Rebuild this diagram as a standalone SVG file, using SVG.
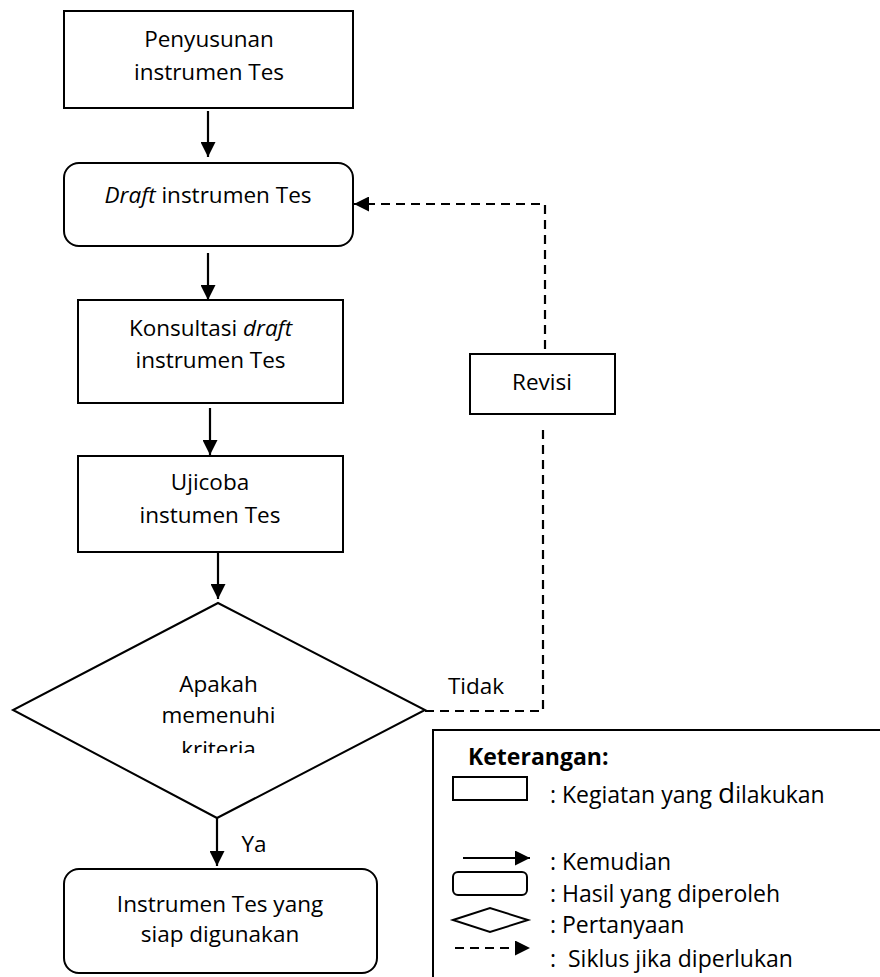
<svg xmlns="http://www.w3.org/2000/svg" width="880" height="977" viewBox="0 0 880 977">
<style>
.box{fill:#fff;stroke:#000;stroke-width:2}
.t{font-family:"Open Sans","Noto Sans","Liberation Sans",sans-serif;font-size:22.5px;fill:#000;text-anchor:middle}
.l{font-family:"Open Sans","Noto Sans","Liberation Sans",sans-serif;font-size:23px;fill:#000}
.ln{fill:none;stroke:#000;stroke-width:2.2}
.dash{fill:none;stroke:#000;stroke-width:2.2;stroke-dasharray:9 6}
</style>
<defs>
<marker id="ah" markerUnits="userSpaceOnUse" markerWidth="15" markerHeight="15" viewBox="0 0 15 15" refX="15" refY="7.5" orient="auto">
<path d="M0,0 L15,7.5 L0,15 z" fill="#000"/>
</marker>
<clipPath id="dclip"><rect x="0" y="600" width="440" height="153"/></clipPath>
</defs>

<g id="connectors">
<line class="ln" x1="208" y1="111" x2="208" y2="157" marker-end="url(#ah)"/>
<line class="ln" x1="208" y1="253" x2="208" y2="300" marker-end="url(#ah)"/>
<line class="ln" x1="210" y1="408" x2="210" y2="455" marker-end="url(#ah)"/>
<line class="ln" x1="218" y1="552" x2="218" y2="599" marker-end="url(#ah)"/>
<line class="ln" x1="217" y1="818" x2="217" y2="866" marker-end="url(#ah)"/>
<polyline class="dash" points="425,711 543,711 543,424"/>
<polyline class="dash" points="545,349 545,204 354,204" marker-end="url(#ah)"/>
<text class="t" x="476" y="694">Tidak</text>
<text class="t" x="254" y="852">Ya</text>
</g>

<g id="n1">
<rect class="box" x="64" y="11" width="289" height="97"/>
<text class="t" x="209" y="47">Penyusunan</text>
<text class="t" x="209" y="80">instrumen Tes</text>
</g>

<g id="n2">
<rect class="box" x="64" y="163" width="289" height="83" rx="15"/>
<text class="t" x="208" y="203"><tspan font-style="italic">Draft</tspan> instrumen Tes</text>
</g>

<g id="n3">
<rect class="box" x="78" y="300" width="265" height="103"/>
<text class="t" x="210.5" y="336">Konsultasi <tspan font-style="italic">draft</tspan></text>
<text class="t" x="210.5" y="368">instrumen Tes</text>
</g>

<g id="n4">
<rect class="box" x="78" y="456" width="265" height="96"/>
<text class="t" x="210" y="490">Ujicoba</text>
<text class="t" x="210" y="523">instumen Tes</text>
</g>

<g id="n5">
<polygon class="box" points="218,603 425,710 217,818 13,710"/>
<g clip-path="url(#dclip)">
<text class="t" x="218.5" y="692">Apakah</text>
<text class="t" x="218.5" y="723">memenuhi</text>
<text class="t" x="218.5" y="757">kriteria</text>
</g>
</g>

<g id="n6">
<rect class="box" x="470" y="354" width="145" height="60"/>
<text class="t" x="542" y="390">Revisi</text>
</g>

<g id="n7">
<rect class="box" x="64" y="869" width="313" height="104" rx="15"/>
<text class="t" x="220" y="912">Instrumen Tes yang</text>
<text class="t" x="220" y="942">siap digunakan</text>
</g>

<g id="legend">
<rect class="box" x="433" y="730" width="460" height="260"/>
<text class="l" x="468" y="765" font-weight="bold" font-size="21">Keterangan:</text>
<rect class="box" x="453" y="777" width="74" height="23"/>
<text class="l" x="550" y="803">: Kegiatan yang <tspan font-size="28">d</tspan>ilakukan</text>
<line class="ln" x1="463" y1="858" x2="530" y2="858" marker-end="url(#ah)"/>
<text class="l" x="550" y="870">: Kemudian</text>
<rect class="box" x="453" y="872" width="74" height="23" rx="5"/>
<text class="l" x="550" y="902">: Hasil yang diperoleh</text>
<polygon class="box" points="453,920 490,908 528,920 490,932"/>
<text class="l" x="550" y="933">: Pertanyaan</text>
<line class="dash" x1="455" y1="948" x2="530" y2="948" marker-end="url(#ah)"/>
<text class="l" x="550" y="967" xml:space="preserve">:  Siklus jika diperlukan</text>
</g>
</svg>
